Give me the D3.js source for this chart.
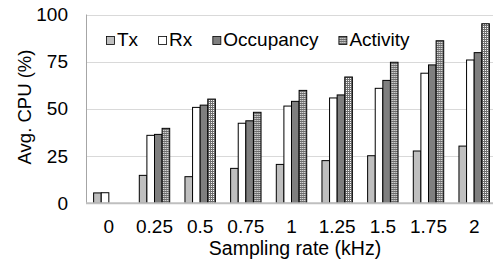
<!DOCTYPE html>
<html>
<head>
<meta charset="utf-8">
<script src="https://cdn.jsdelivr.net/npm/d3@7"></script>
<style>
  body { margin: 0; background: #fff; }
  text { font-family: "Liberation Sans", Arial, sans-serif; fill: #000; }
</style>
</head>
<body>
<div id="chart-area"></div>
<script>
var rates = ["0", "0.25", "0.5", "0.75", "1", "1.25", "1.5", "1.75", "2"];
var series = ["Tx", "Rx", "Occupancy", "Activity"];
var tx        = [5.5, 14.8, 14.1, 18.5, 20.6, 22.6, 25.2, 27.7, 30.3];
var rx        = [5.6, 36.0, 50.8, 42.4, 51.5, 55.8, 60.9, 68.9, 75.9];
var occupancy = [0, 36.5, 52.0, 43.7, 54.0, 57.4, 65.1, 73.3, 79.8];
var activity  = [0, 39.7, 55.2, 48.2, 59.8, 66.9, 74.7, 86.1, 95.1];
var yTicks = [0, 25, 50, 75, 100];

var values = [tx, rx, occupancy, activity];
var fills = ["#bfbfbf", "#ffffff", "#7f7f7f", "url(#checker)"];

var svg = d3.select("#chart-area").append("svg")
    .attr("width", 493)
    .attr("height", 261);

// dotted pattern for Activity
var pat = svg.append("defs").append("pattern")
    .attr("id", "checker")
    .attr("patternUnits", "userSpaceOnUse")
    .attr("width", 2)
    .attr("height", 2);
pat.append("rect").attr("width", 2).attr("height", 2).attr("fill", "#6e6e6e");
pat.append("rect").attr("width", 1).attr("height", 1).attr("fill", "#ffffff");

var plotLeft = 86, plotRight = 497, plotTop = 14.5, plotBottom = 203.3;

var x = d3.scaleBand().domain(rates).range([plotLeft, plotRight])
    .paddingInner(0.334).paddingOuter(0.167);
var xs = d3.scaleBand().domain(series).range([0, x.bandwidth()]);
var y = d3.scaleLinear().domain([0, 100]).range([plotBottom, plotTop]);

// gridlines
svg.append("g").selectAll("line").data(yTicks.slice(1)).enter().append("line")
    .attr("x1", plotLeft).attr("x2", 493)
    .attr("y1", d => Math.round(y(d)) + 0.5).attr("y2", d => Math.round(y(d)) + 0.5)
    .attr("stroke", "#d9d9d9").attr("stroke-width", 1);

// left line
svg.append("line")
    .attr("x1", plotLeft + 0.5).attr("x2", plotLeft + 0.5)
    .attr("y1", plotTop).attr("y2", plotBottom)
    .attr("stroke", "#a6a6a6");

// y axis labels
var yAxis = svg.append("g")
    .attr("transform", "translate(" + plotLeft + ",0)")
    .call(d3.axisLeft(y).tickValues(yTicks).tickSize(0).tickPadding(18));
yAxis.select(".domain").remove();
yAxis.selectAll("text").style("font-size", "19px")
    .style("font-family", "Liberation Sans, Arial, sans-serif");

// bars
var groups = svg.append("g").selectAll("g").data(rates).enter().append("g")
    .attr("transform", d => "translate(" + x(d) + ",0)");

groups.selectAll("rect")
    .data((d, i) => series.map((s, j) => ({ s: s, v: values[j][i], f: fills[j] })))
    .enter().append("rect")
    .filter(d => d.v > 0)
    .attr("x", d => xs(d.s))
    .attr("y", d => y(d.v))
    .attr("width", xs.bandwidth())
    .attr("height", d => y(0) - y(d.v))
    .attr("fill", d => d.f)
    .attr("stroke", "#000")
    .attr("stroke-width", 1);

// bottom axis
svg.append("line")
    .attr("x1", plotLeft).attr("x2", 493)
    .attr("y1", plotBottom).attr("y2", plotBottom)
    .attr("stroke", "#bfbfbf").attr("stroke-width", 2);

var xAxis = svg.append("g")
    .attr("transform", "translate(0," + plotBottom + ")")
    .call(d3.axisBottom(x).tickSize(0).tickPadding(16));
xAxis.select(".domain").remove();
xAxis.selectAll("text").style("font-size", "19px")
    .style("font-family", "Liberation Sans, Arial, sans-serif");

// axis titles
svg.append("text")
    .attr("x", 295).attr("y", 254.5)
    .attr("text-anchor", "middle")
    .style("font-size", "19.5px")
    .text("Sampling rate (kHz)");

svg.append("text")
    .attr("transform", "translate(31,107) rotate(-90)")
    .attr("text-anchor", "middle")
    .style("font-size", "18.5px")
    .text("Avg. CPU (%)");

// legend
var lx = 106;
series.forEach(function(s, j) {
    var g = svg.append("g").attr("transform", "translate(" + lx + ",36)");
    g.append("rect")
        .attr("x", 0.5).attr("y", 0.5)
        .attr("width", 8).attr("height", 8)
        .attr("fill", fills[j]).attr("stroke", "#000").attr("stroke-width", 0.8);
    var t = g.append("text")
        .attr("x", 11).attr("y", 9.5)
        .style("font-size", "19px")
        .text(s);
    lx += 11 + t.node().getComputedTextLength() + 20;
});
</script>
</body>
</html>
